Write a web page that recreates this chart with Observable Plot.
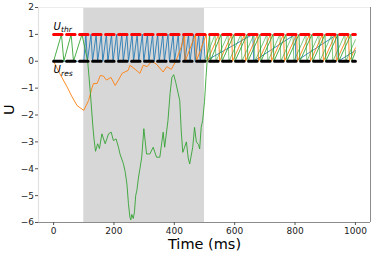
<!DOCTYPE html>
<html>
<head>
<meta charset="utf-8">
<script src="https://cdn.jsdelivr.net/npm/d3@7"></script>
<script src="https://cdn.jsdelivr.net/npm/@observablehq/plot@0.6"></script>
<style>
  html, body { margin: 0; padding: 0; background: #fff; }
  #chart svg { display: block; }
</style>
</head>
<body>
<div id="chart"></div>
<script>
// ---- data ----
const xDomain = [-50, 1050];
const yDomain = [-6, 2];
const xTicks = [0, 200, 400, 600, 800, 1000];
const yTicks = [-6, -5, -4, -3, -2, -1, 0, 1, 2];
const stimWindow = [100, 500];
const dashRange = [0, 1000];
const thr = 1;
const res = 0;
const xLabel = "Time (ms)";
const yLabel = "U";

// green neuron (pre-stimulus spikes, inhibition, recovery)
const greenAT = [0, 26, 34, 58, 66, 94, 113, 122, 130, 134, 139, 146, 152, 160, 171, 182, 191, 198, 207, 215, 220, 231, 237, 243, 248, 253, 256, 259, 264, 268, 272, 276, 281, 286, 292, 299, 308, 319, 330, 341, 352, 363, 368, 379, 386, 392, 398, 405, 418, 423, 428, 434, 440, 446, 451, 461, 467, 473, 480, 484, 489, 494, 500, 505, 511, 517, 519];
const greenAU = [0, 1, 0, 1, 0, 1, 0, -1.2, -2.4, -2.9, -3.35, -3.07, -3.25, -2.7, -3.07, -2.7, -2.64, -2.95, -2.89, -3.2, -3.45, -3.8, -4.1, -4.57, -5.3, -5.81, -5.9, -5.7, -5.85, -5.6, -5.0, -4.8, -4.35, -4.0, -3.57, -2.51, -3.45, -3.45, -3.2, -3.57, -3.57, -2.64, -3.2, -2.2, -1.2, -0.6, -0.5, -0.8, -1.46, -2.6, -3.39, -3.2, -3.0, -3.6, -3.82, -3.2, -2.46, -3.0, -3.1, -3.26, -2.46, -2.2, -1.5, -0.6, 0.37, 1, 0];
const greenASpikes = [555, 598, 641, 684, 727, 770, 813, 856, 899, 942, 985];
const greenAEnd = 0.35;

// second green neuron after the stimulus
const greenBSpikes = [535, 578, 621, 664, 707, 750, 793, 836, 879, 922, 965];
const greenBEnd = 0.8;

// orange neuron
const orangeT = [0, 20, 45, 60, 78, 100, 116, 127, 132, 144, 155, 165, 175, 190, 204, 215, 227, 247, 253, 270, 286, 297, 310, 325, 340, 363, 375, 390, 405, 423, 434, 436];
const orangeU = [0, -0.45, -0.96, -1.3, -1.65, -1.83, -1.46, -1.0, -0.83, -0.83, -0.53, -0.55, -0.7, -0.6, -0.9, -0.7, -0.45, -0.34, -0.15, -0.3, -0.45, -0.15, -0.2, 0, -0.1, -0.4, -0.2, -0.3, 0.0, 0.53, 1, 0];
const orangeSpikes = [470, 506, 547, 590, 633, 676, 719, 762, 805, 848, 891, 934, 977];
const orangeEnd = 0.5;

// blue neuron
const blueT = [0, 100];
const blueU = [0, 0];
const blueStimSpikes = [107, 124, 141, 158, 175, 192, 209, 226, 243, 260, 277, 294, 311, 328, 345, 362, 379, 396, 413, 430, 447, 464, 481, 497];
const bluePostSpikes = [660, 800, 940];
const blueEnd = 0.4;

const labelThr = ["U", "thr"];
const labelRes = ["U", "res"];

// ---- build polylines from the read values ----
function trace(T, U, spikes, reset, endU) {
  const pts = T.map((t, i) => ({t, u: U[i]}));
  for (const s of spikes) {
    pts.push({t: s, u: thr});
    pts.push({t: s + reset, u: res});
  }
  pts.push({t: dashRange[1], u: endU});
  return pts;
}
const blue = (() => {
  const pts = blueT.map((t, i) => ({t, u: blueU[i]}));
  for (const s of blueStimSpikes) { pts.push({t: s, u: thr}); pts.push({t: s + 5, u: res}); }
  for (const s of bluePostSpikes) { pts.push({t: s, u: thr}); pts.push({t: s + 3, u: res}); }
  pts.push({t: dashRange[1], u: blueEnd});
  return pts;
})();
const orange = trace(orangeT, orangeU, orangeSpikes, 3, orangeEnd);
const greenA = trace(greenAT, greenAU, greenASpikes, 3, greenAEnd);
const greenB = trace([stimWindow[1]], [res], greenBSpikes, 3, greenBEnd);

const thrLine = dashRange.map(t => ({t, u: thr}));
const resLine = dashRange.map(t => ({t, u: res}));

const fmt = d => (d < 0 ? "\u2212" + Math.abs(d) : String(d));

const chart = Plot.plot({
  width: 374,
  height: 256,
  marginLeft: 38,
  marginRight: 4,
  marginTop: 7,
  marginBottom: 34,
  style: {fontFamily: "DejaVu Sans, sans-serif", background: "#fff", color: "#222"},
  x: {domain: xDomain},
  y: {domain: yDomain},
  marks: [
    Plot.rect([stimWindow], {x1: d => d[0], x2: d => d[1], fill: "#d7d7d7"}),
    Plot.line(blue, {x: "t", y: "u", stroke: "#1f77b4", strokeWidth: 1, strokeOpacity: 0.85}),
    Plot.line(orange, {x: "t", y: "u", stroke: "#ff7f0e", strokeWidth: 1, strokeOpacity: 0.9}),
    Plot.line(greenB, {x: "t", y: "u", stroke: "#2ca02c", strokeWidth: 1, strokeOpacity: 0.6}),
    Plot.line(greenA, {x: "t", y: "u", stroke: "#2ca02c", strokeWidth: 1, strokeOpacity: 0.85}),
    Plot.line(thrLine, {x: "t", y: "u", stroke: "#ff0000", strokeWidth: 3, strokeDasharray: "8.5,4.5"}),
    Plot.line(resLine, {x: "t", y: "u", stroke: "#000", strokeWidth: 3, strokeDasharray: "8.5,4.5"}),
    // labels
    Plot.text([labelThr[0]], {x: dashRange[0], y: thr, text: d => d, dy: -8, textAnchor: "start", fontStyle: "italic", fontSize: 10, fill: "#000"}),
    Plot.text([labelThr[1]], {x: dashRange[0], y: thr, text: d => d, dx: 7.5, dy: -4.5, textAnchor: "start", fontStyle: "italic", fontSize: 7.5, fill: "#000"}),
    Plot.text([labelRes[0]], {x: dashRange[0], y: res, text: d => d, dy: 9, textAnchor: "start", fontStyle: "italic", fontSize: 10, fill: "#000"}),
    Plot.text([labelRes[1]], {x: dashRange[0], y: res, text: d => d, dx: 7.5, dy: 12, textAnchor: "start", fontStyle: "italic", fontSize: 7.5, fill: "#000"}),
    // spines
    Plot.ruleX([xDomain[0]], {stroke: "#e2e2e2", strokeWidth: 1.2}),
    Plot.ruleY([yDomain[1]], {stroke: "#ececec", strokeWidth: 1.2}),
    Plot.ruleX([xDomain[1]], {stroke: "#8c8c8c", strokeWidth: 1}),
    Plot.ruleY([yDomain[0]], {stroke: "#8c8c8c", strokeWidth: 1}),
    // axes
    Plot.axisX({ticks: xTicks, tickFormat: fmt, tickSize: 3, tickPadding: 2.5, fontSize: 9, label: null, stroke: "#555", fill: "#222"}),
    Plot.axisY({ticks: yTicks, tickFormat: fmt, tickSize: 3, tickPadding: 1.5, fontSize: 9, label: null, stroke: "#555", fill: "#222"}),
    Plot.text([xLabel], {frameAnchor: "bottom", text: d => d, dy: 22, fontSize: 14.5, fill: "#000", lineAnchor: "middle"}),
    Plot.text([yLabel], {frameAnchor: "left", text: d => d, dx: -29, rotate: -90, fontSize: 14.5, fill: "#000", lineAnchor: "middle"})
  ]
});
document.getElementById("chart").appendChild(chart);
</script>
</body>
</html>
